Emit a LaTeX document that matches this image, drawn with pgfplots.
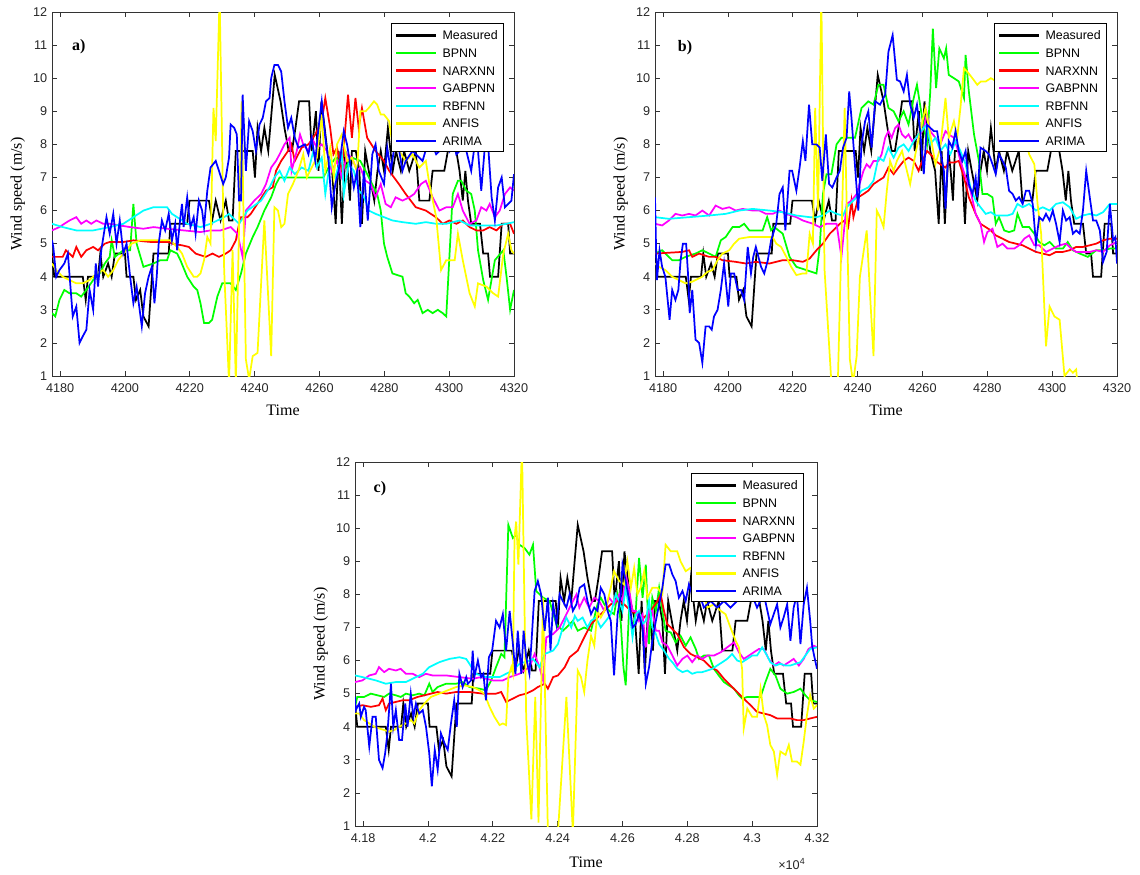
\documentclass[border=0pt]{standalone}
\usepackage{fontspec}
\setmainfont{Liberation Serif}
\setsansfont{Liberation Sans}
\usepackage{pgfplots}
\usepackage{pgfplotstable}
\pgfplotsset{compat=1.18}

\definecolor{matBlack}{RGB}{0,0,0}
\definecolor{matGreen}{RGB}{0,255,0}
\definecolor{matRed}{RGB}{255,0,0}
\definecolor{matMagenta}{RGB}{255,0,255}
\definecolor{matCyan}{RGB}{0,255,255}
\definecolor{matYellow}{RGB}{255,255,0}
\definecolor{matBlue}{RGB}{0,0,255}

% measured wind speed (same series in all three panels)
\pgfplotstableread[row sep=\\]{x y\\
4177.5 4.7\\ 4178.2 4.0\\ 4187.0 4.0\\ 4187.9 3.3\\ 4188.6 4.0\\ 4191.7 4.0\\ 4192.4 4.7\\ 4193.3 4.0\\ 4194.8 4.4\\ 4195.9 4.0\\
4196.9 4.7\\ 4200.0 4.7\\ 4200.5 4.0\\ 4202.6 4.0\\ 4203.4 3.3\\ 4204.7 3.6\\ 4205.7 2.8\\ 4207.3 2.5\\ 4208.8 4.7\\ 4213.5 4.7\\
4214.0 5.6\\ 4219.2 5.6\\ 4219.9 6.3\\ 4225.9 6.3\\ 4226.9 5.7\\ 4228.0 6.3\\ 4229.5 5.7\\ 4231.1 6.3\\ 4232.1 5.7\\ 4233.2 5.7\\
4234.2 7.8\\ 4239.4 7.8\\ 4240.1 7.0\\ 4240.9 8.5\\ 4242.0 7.8\\ 4243.0 8.5\\ 4244.2 7.8\\ 4246.2 10.1\\ 4248.0 9.3\\ 4249.2 8.5\\
4250.5 7.8\\ 4251.5 7.8\\ 4252.6 8.5\\ 4253.7 9.3\\ 4256.8 9.3\\ 4257.6 7.8\\ 4258.9 9.0\\ 4259.7 7.2\\ 4260.6 9.3\\ 4261.6 8.5\\
4262.4 7.8\\ 4263.9 7.2\\ 4265.0 5.6\\ 4265.9 7.8\\ 4266.9 5.6\\ 4268.0 7.8\\ 4268.7 7.2\\ 4269.4 6.3\\ 4270.0 7.8\\ 4271.2 7.8\\
4272.3 7.2\\ 4273.1 5.6\\ 4274.1 7.8\\ 4275.2 7.2\\ 4276.9 6.3\\ 4277.9 7.2\\ 4278.9 7.8\\ 4279.9 7.2\\ 4281.1 8.5\\ 4282.6 7.2\\
4283.6 7.8\\ 4285.1 7.2\\ 4286.1 7.8\\ 4287.7 7.2\\ 4289.7 7.8\\ 4290.8 6.3\\ 4293.9 6.3\\ 4294.9 7.2\\ 4298.5 7.2\\ 4299.6 7.8\\
4302.2 7.8\\ 4303.2 7.2\\ 4304.2 6.3\\ 4305.0 7.2\\ 4305.8 6.3\\ 4306.8 5.6\\ 4309.5 5.6\\ 4310.5 4.7\\ 4312.0 4.7\\ 4312.6 4.0\\
4315.1 4.0\\ 4316.2 5.6\\ 4318.2 5.6\\ 4318.8 4.7\\ 4320.0 4.7\\
}\measured

% ---------- panel a ----------
\pgfplotstableread[row sep=\\]{x y\\
4177.5 2.9\\ 4178.5 2.8\\ 4179.8 3.3\\ 4181.3 3.6\\ 4182.9 3.5\\ 4185.0 3.5\\ 4186.5 3.4\\ 4188.1 3.6\\ 4190.2 3.9\\ 4192.2 4.1\\
4193.8 4.4\\ 4195.3 4.6\\ 4195.9 5.1\\ 4196.9 4.6\\ 4199.5 4.8\\ 4201.6 4.8\\ 4202.6 6.2\\ 4203.6 5.0\\ 4205.7 4.3\\ 4208.8 4.4\\
4210.9 4.5\\ 4213.0 4.5\\ 4214.0 4.8\\ 4216.1 4.7\\ 4217.1 4.5\\ 4219.2 4.0\\ 4221.2 3.7\\ 4222.3 3.6\\ 4223.3 3.2\\ 4224.4 2.6\\
4225.9 2.6\\ 4226.9 2.7\\ 4228.5 3.4\\ 4230.0 3.8\\ 4232.6 3.8\\ 4234.2 3.6\\ 4235.8 4.1\\ 4237.3 4.7\\ 4239.4 5.2\\ 4240.9 5.5\\
4243.0 6.0\\ 4245.1 6.4\\ 4246.6 6.8\\ 4247.7 7.0\\ 4251.3 7.0\\ 4261.2 7.0\\ 4262.8 7.3\\ 4265.0 7.6\\ 4268.0 7.3\\ 4270.0 7.6\\
4272.6 7.5\\ 4274.2 7.2\\ 4277.8 6.5\\ 4278.9 6.0\\ 4279.9 5.0\\ 4280.9 4.6\\ 4282.5 4.1\\ 4285.6 4.0\\ 4286.6 3.5\\ 4287.7 3.4\\
4289.2 3.2\\ 4290.3 3.3\\ 4291.8 2.9\\ 4293.4 3.0\\ 4294.9 2.9\\ 4296.5 3.0\\ 4298.0 2.9\\ 4299.1 2.8\\ 4301.1 6.5\\ 4302.7 6.9\\
4303.7 6.9\\ 4305.3 6.6\\ 4306.8 6.5\\ 4307.9 6.0\\ 4308.9 4.8\\ 4310.5 3.9\\ 4312.0 3.3\\ 4314.1 4.5\\ 4316.7 4.8\\ 4317.7 4.0\\
4318.8 3.0\\ 4320.0 3.6\\
}\taG
\pgfplotstableread[row sep=\\]{x y\\
4177.5 4.6\\ 4180.8 4.6\\ 4181.8 4.8\\ 4183.9 4.6\\ 4185.0 4.9\\ 4186.5 4.6\\ 4188.1 4.8\\ 4190.2 4.9\\ 4191.7 4.8\\ 4193.8 5.0\\
4195.3 5.05\\ 4199.5 5.05\\ 4202.6 5.1\\ 4208.0 5.05\\ 4213.5 5.05\\ 4214.5 5.0\\ 4217.6 4.95\\ 4219.7 4.9\\ 4221.8 4.7\\ 4224.9 4.6\\
4227.0 4.7\\ 4229.0 4.6\\ 4231.1 4.7\\ 4232.6 4.8\\ 4234.2 5.1\\ 4235.2 5.6\\ 4235.8 5.8\\ 4237.8 5.8\\ 4238.8 5.9\\ 4241.5 6.3\\
4243.5 6.6\\ 4245.6 6.7\\ 4246.6 7.2\\ 4248.2 7.5\\ 4250.3 7.8\\ 4251.3 8.0\\ 4252.4 7.5\\ 4254.5 7.9\\ 4256.6 8.0\\ 4258.7 8.3\\
4260.7 8.7\\ 4261.8 9.4\\ 4263.3 8.5\\ 4264.3 7.7\\ 4265.4 7.9\\ 4266.9 7.2\\ 4268.8 9.5\\ 4270.0 8.2\\ 4271.1 9.4\\ 4272.1 8.5\\
4273.1 9.1\\ 4274.7 8.2\\ 4277.3 7.8\\ 4279.9 7.5\\ 4281.5 7.2\\ 4284.5 6.8\\ 4286.6 6.5\\ 4289.7 6.1\\ 4292.8 6.0\\ 4295.9 5.8\\
4298.0 5.6\\ 4300.1 5.7\\ 4302.2 5.6\\ 4304.2 5.7\\ 4306.3 5.5\\ 4308.4 5.4\\ 4310.5 5.4\\ 4312.5 5.5\\ 4314.6 5.4\\ 4316.7 5.6\\
4318.8 5.6\\ 4320.0 5.3\\
}\taR
\pgfplotstableread[row sep=\\]{x y\\
4177.5 5.4\\ 4179.8 5.5\\ 4181.3 5.6\\ 4182.9 5.7\\ 4185.0 5.8\\ 4186.5 5.6\\ 4188.1 5.7\\ 4189.6 5.6\\ 4191.2 5.7\\ 4193.3 5.6\\
4195.3 5.6\\ 4198.4 5.55\\ 4201.6 5.5\\ 4205.7 5.45\\ 4208.8 5.5\\ 4213.0 5.45\\ 4218.1 5.4\\ 4223.3 5.35\\ 4226.4 5.4\\ 4229.5 5.4\\
4232.6 5.5\\ 4234.7 5.3\\ 4236.3 4.6\\ 4237.3 6.0\\ 4239.9 6.3\\ 4242.0 6.5\\ 4243.5 6.8\\ 4245.1 7.3\\ 4246.6 7.5\\ 4247.7 7.7\\
4249.2 8.0\\ 4250.8 8.2\\ 4251.4 7.2\\ 4253.0 7.8\\ 4254.0 8.3\\ 4255.0 8.0\\ 4256.6 7.8\\ 4257.6 8.2\\ 4259.2 7.9\\ 4260.7 8.0\\
4262.3 7.8\\ 4263.8 7.2\\ 4265.4 7.5\\ 4266.9 7.0\\ 4268.5 7.7\\ 4270.0 7.6\\ 4271.6 7.2\\ 4272.6 7.3\\ 4274.2 6.9\\ 4275.8 6.8\\
4277.3 6.4\\ 4278.9 6.8\\ 4280.4 6.2\\ 4282.0 6.1\\ 4283.5 6.4\\ 4285.6 6.3\\ 4287.7 6.4\\ 4289.2 6.5\\ 4291.3 6.8\\ 4292.8 6.9\\
4294.9 6.4\\ 4297.0 6.0\\ 4299.1 6.1\\ 4301.1 6.1\\ 4302.7 6.5\\ 4304.2 6.0\\ 4306.3 5.6\\ 4308.4 5.7\\ 4309.9 6.1\\ 4311.5 6.0\\
4312.5 6.2\\ 4314.1 5.8\\ 4315.6 6.0\\ 4317.2 6.5\\ 4318.8 6.7\\ 4320.0 6.6\\
}\taP
\pgfplotstableread[row sep=\\]{x y\\
4177.5 5.6\\ 4180.8 5.5\\ 4185.0 5.4\\ 4190.2 5.4\\ 4195.3 5.5\\ 4199.5 5.6\\ 4202.6 5.8\\ 4205.7 6.0\\ 4208.8 6.1\\ 4213.0 6.1\\
4214.5 5.9\\ 4216.1 5.8\\ 4219.2 5.6\\ 4223.3 5.5\\ 4226.4 5.6\\ 4230.6 5.8\\ 4232.1 5.9\\ 4235.2 5.6\\ 4237.8 6.0\\ 4242.0 6.3\\
4244.6 6.7\\ 4246.1 7.0\\ 4247.7 7.2\\ 4249.2 6.9\\ 4250.8 7.3\\ 4252.4 7.1\\ 4254.5 7.3\\ 4256.6 7.2\\ 4258.1 7.8\\ 4259.2 7.3\\
4260.7 7.6\\ 4261.8 6.5\\ 4263.3 7.5\\ 4264.9 7.0\\ 4266.9 7.7\\ 4267.5 6.5\\ 4269.0 7.4\\ 4270.6 7.2\\ 4272.1 6.6\\ 4273.2 6.5\\
4274.2 6.3\\ 4275.2 6.0\\ 4277.3 5.9\\ 4279.9 5.8\\ 4282.5 5.7\\ 4285.6 5.65\\ 4289.7 5.6\\ 4292.8 5.65\\ 4296.0 5.6\\ 4299.1 5.6\\
4303.2 5.7\\ 4306.3 5.55\\ 4310.5 5.55\\ 4314.6 5.55\\ 4317.7 5.6\\ 4320.0 5.65\\
}\taC
\pgfplotstableread[row sep=\\]{x y\\
4177.5 4.4\\ 4178.8 4.2\\ 4180.8 4.0\\ 4182.9 3.9\\ 4185.0 3.8\\ 4187.0 3.8\\ 4189.1 3.9\\ 4191.2 4.1\\ 4193.3 4.2\\ 4194.8 4.0\\
4196.4 4.2\\ 4197.9 4.5\\ 4199.5 4.7\\ 4202.1 5.0\\ 4204.7 5.1\\ 4207.8 5.1\\ 4210.9 5.1\\ 4214.0 5.1\\ 4216.1 4.9\\ 4217.6 4.7\\
4219.2 4.3\\ 4221.2 4.0\\ 4222.3 4.0\\ 4223.3 4.1\\ 4224.4 4.5\\ 4225.4 5.2\\ 4226.4 5.0\\ 4227.3 9.1\\ 4228.0 8.1\\ 4229.2 12.5\\
4230.6 4.2\\ 4232.1 0.8\\ 4233.2 4.8\\ 4234.2 0.8\\ 4236.0 9.3\\ 4237.3 1.5\\ 4238.3 0.9\\ 4239.4 1.6\\ 4240.9 1.7\\ 4243.0 5.7\\
4245.1 1.6\\ 4246.1 6.1\\ 4247.2 6.0\\ 4248.2 5.5\\ 4249.2 5.6\\ 4250.3 6.5\\ 4251.8 6.8\\ 4253.5 7.2\\ 4255.0 7.7\\ 4256.1 7.0\\
4257.6 7.3\\ 4259.2 7.6\\ 4260.7 8.9\\ 4261.8 7.2\\ 4263.3 7.9\\ 4264.4 7.0\\ 4265.4 8.0\\ 4266.9 8.3\\ 4268.5 7.5\\ 4270.0 7.6\\
4271.6 7.2\\ 4272.6 9.0\\ 4274.2 9.0\\ 4275.2 9.1\\ 4276.8 9.3\\ 4277.8 9.2\\ 4278.9 8.9\\ 4279.9 8.9\\ 4281.5 8.7\\ 4282.5 8.0\\
4284.6 7.8\\ 4286.6 7.5\\ 4288.7 7.7\\ 4290.8 7.3\\ 4292.8 7.5\\ 4293.9 6.8\\ 4296.0 5.8\\ 4297.5 4.2\\ 4299.1 4.5\\ 4301.7 4.5\\
4302.7 5.3\\ 4304.2 4.5\\ 4306.3 3.5\\ 4307.9 3.1\\ 4308.9 3.8\\ 4311.5 3.7\\ 4313.6 3.5\\ 4315.1 3.4\\ 4316.7 4.7\\ 4318.2 5.3\\
4319.2 4.8\\ 4320.0 4.7\\
}\taY
\pgfplotstableread[row sep=\\]{x y\\
4177.5 5.1\\ 4177.9 4.9\\ 4178.8 4.0\\ 4179.8 4.2\\ 4181.3 4.4\\ 4182.4 4.7\\ 4183.9 2.8\\ 4185.0 3.1\\ 4186.0 2.0\\ 4187.0 2.2\\
4188.1 2.4\\ 4189.1 3.6\\ 4190.2 3.0\\ 4191.0 4.4\\ 4191.7 3.7\\ 4192.7 4.8\\ 4194.3 5.8\\ 4195.3 5.3\\ 4196.4 5.9\\ 4197.4 5.0\\
4198.4 5.7\\ 4199.5 4.7\\ 4200.5 5.0\\ 4201.6 4.0\\ 4202.6 3.2\\ 4203.6 3.7\\ 4205.2 2.5\\ 4206.2 3.5\\ 4207.3 4.0\\ 4208.3 4.3\\
4209.1 3.2\\ 4209.8 4.0\\ 4210.4 5.0\\ 4211.4 5.7\\ 4212.4 5.4\\ 4213.5 5.9\\ 4214.5 5.1\\ 4215.5 5.6\\ 4216.1 4.8\\ 4217.1 5.8\\
4217.6 6.2\\ 4218.1 5.5\\ 4219.2 6.4\\ 4220.2 5.5\\ 4221.2 5.8\\ 4221.8 5.3\\ 4222.8 6.3\\ 4223.8 6.0\\ 4224.4 5.5\\ 4225.4 6.6\\
4226.4 7.3\\ 4228.0 7.5\\ 4229.0 7.2\\ 4230.3 6.8\\ 4231.1 7.0\\ 4232.1 7.6\\ 4232.6 8.6\\ 4233.7 8.5\\ 4234.5 8.3\\ 4235.2 6.3\\
4235.8 6.3\\ 4236.3 9.5\\ 4237.3 7.2\\ 4238.3 8.7\\ 4239.4 8.4\\ 4240.4 7.8\\ 4241.5 8.6\\ 4242.5 8.8\\ 4243.5 9.3\\ 4244.6 9.4\\
4245.1 10.0\\ 4246.1 10.4\\ 4247.2 10.4\\ 4248.2 10.2\\ 4249.2 9.3\\ 4250.3 8.5\\ 4251.3 8.8\\ 4252.4 8.2\\ 4253.5 7.9\\ 4255.5 8.0\\
4256.6 7.7\\ 4257.6 8.2\\ 4258.7 7.5\\ 4259.7 8.5\\ 4260.7 9.3\\ 4261.8 8.2\\ 4262.8 7.5\\ 4263.8 6.1\\ 4264.9 6.8\\ 4265.9 7.2\\
4267.5 8.4\\ 4268.5 8.0\\ 4269.5 7.4\\ 4270.6 6.7\\ 4271.6 7.2\\ 4272.6 5.5\\ 4273.7 7.2\\ 4274.9 5.7\\ 4276.3 7.7\\ 4277.3 8.0\\
4278.3 7.2\\ 4279.9 6.8\\ 4280.9 7.9\\ 4282.0 7.2\\ 4283.5 8.2\\ 4284.6 7.8\\ 4285.6 7.2\\ 4286.6 7.5\\ 4288.7 7.8\\ 4291.8 7.5\\
4293.9 8.2\\ 4296.0 7.7\\ 4299.1 8.0\\ 4300.1 7.8\\ 4301.1 8.2\\ 4302.2 7.7\\ 4303.2 7.8\\ 4304.2 8.0\\ 4305.3 7.8\\ 4306.8 7.2\\
4307.9 8.0\\ 4308.9 7.8\\ 4309.9 6.6\\ 4310.9 7.8\\ 4312.0 8.0\\ 4313.1 6.4\\ 4314.1 5.7\\ 4315.1 6.7\\ 4316.2 7.0\\ 4317.2 6.1\\
4318.2 6.2\\ 4319.2 6.3\\ 4320.0 7.1\\
}\taB

% ---------- panel b ----------
\pgfplotstableread[row sep=\\]{x y\\
4177.5 4.7\\ 4179.7 4.8\\ 4182.8 4.5\\ 4184.9 4.5\\ 4186.9 4.6\\ 4190.0 4.7\\ 4192.1 4.8\\ 4194.2 4.7\\ 4196.2 4.6\\ 4197.8 5.1\\
4199.3 5.2\\ 4201.4 5.5\\ 4203.5 5.5\\ 4205.0 5.6\\ 4206.6 5.4\\ 4210.7 5.4\\ 4212.1 5.8\\ 4213.3 5.4\\ 4214.3 5.5\\ 4216.9 5.3\\
4219.0 4.6\\ 4221.1 4.3\\ 4224.2 4.2\\ 4227.3 4.1\\ 4228.3 4.9\\ 4229.3 6.5\\ 4230.4 7.1\\ 4231.9 7.1\\ 4233.5 8.0\\ 4235.0 8.2\\
4237.1 8.2\\ 4239.2 8.2\\ 4241.2 9.1\\ 4243.3 9.3\\ 4244.9 9.2\\ 4246.4 9.8\\ 4248.0 9.8\\ 4249.5 9.1\\ 4251.1 9.0\\ 4252.6 8.7\\
4254.2 9.0\\ 4255.7 8.6\\ 4257.3 9.4\\ 4258.3 9.8\\ 4259.9 8.8\\ 4261.4 8.0\\ 4262.4 9.6\\ 4263.2 11.5\\ 4264.2 9.7\\ 4265.2 10.9\\
4266.6 10.6\\ 4267.3 10.9\\ 4268.1 10.1\\ 4269.7 10.0\\ 4271.2 9.9\\ 4272.8 9.4\\ 4273.3 10.7\\ 4274.3 9.6\\ 4275.9 8.3\\ 4277.4 7.5\\
4278.5 6.5\\ 4280.0 6.5\\ 4281.6 6.4\\ 4282.6 5.6\\ 4283.6 5.8\\ 4285.2 5.4\\ 4286.7 5.35\\ 4288.3 5.4\\ 4289.3 5.9\\ 4290.9 5.5\\
4292.9 5.5\\ 4294.5 5.3\\ 4296.0 5.05\\ 4297.6 4.95\\ 4299.2 5.05\\ 4301.2 4.85\\ 4303.3 4.85\\ 4304.8 5.05\\ 4306.4 4.8\\ 4308.5 4.7\\
4311.0 4.6\\ 4313.6 4.8\\ 4315.7 4.8\\ 4317.8 4.85\\ 4320.0 4.85\\
}\tbG
\pgfplotstableread[row sep=\\]{x y\\
4177.5 4.7\\ 4185.9 4.75\\ 4188.0 4.8\\ 4189.0 4.6\\ 4191.1 4.7\\ 4194.2 4.6\\ 4196.2 4.6\\ 4198.3 4.5\\ 4202.4 4.45\\ 4205.5 4.4\\
4208.6 4.45\\ 4212.8 4.4\\ 4216.9 4.5\\ 4220.0 4.5\\ 4223.1 4.45\\ 4225.2 4.55\\ 4227.3 4.8\\ 4229.3 5.0\\ 4231.4 5.3\\ 4233.5 5.5\\
4234.5 5.6\\ 4236.0 5.7\\ 4237.1 5.5\\ 4238.1 6.3\\ 4238.7 5.8\\ 4240.2 6.4\\ 4241.8 6.5\\ 4243.3 6.6\\ 4244.9 6.8\\ 4246.4 6.9\\
4248.0 7.0\\ 4249.5 7.3\\ 4251.1 7.1\\ 4252.6 7.3\\ 4254.2 7.5\\ 4255.7 7.6\\ 4257.3 7.5\\ 4258.8 7.2\\ 4259.9 7.5\\ 4261.4 7.8\\
4263.0 7.65\\ 4264.0 7.5\\ 4265.5 7.4\\ 4267.1 7.3\\ 4268.1 7.45\\ 4269.7 7.45\\ 4271.2 7.5\\ 4272.8 7.0\\ 4274.3 6.4\\ 4276.4 5.9\\
4277.9 5.6\\ 4279.5 5.5\\ 4281.1 5.4\\ 4282.6 5.25\\ 4284.7 5.15\\ 4286.7 5.05\\ 4288.8 5.0\\ 4290.9 4.95\\ 4292.9 4.85\\ 4295.0 4.75\\
4297.1 4.7\\ 4299.2 4.65\\ 4301.2 4.75\\ 4303.3 4.75\\ 4305.4 4.8\\ 4307.4 4.9\\ 4309.5 4.9\\ 4311.6 4.95\\ 4313.6 5.0\\ 4315.7 5.1\\
4317.8 5.15\\ 4320.0 5.15\\
}\tbR
\pgfplotstableread[row sep=\\]{x y\\
4177.5 5.6\\ 4179.7 5.55\\ 4181.8 5.7\\ 4183.8 5.9\\ 4185.9 5.85\\ 4188.0 5.9\\ 4190.0 5.85\\ 4192.1 6.0\\ 4194.2 5.85\\ 4196.2 6.15\\
4198.3 6.05\\ 4200.4 6.1\\ 4202.4 6.0\\ 4204.5 6.05\\ 4207.6 6.0\\ 4209.7 6.0\\ 4211.7 5.9\\ 4213.8 5.9\\ 4215.9 6.0\\ 4217.9 5.9\\
4221.1 5.8\\ 4223.1 5.7\\ 4226.2 5.6\\ 4228.3 5.5\\ 4230.4 5.6\\ 4233.5 5.6\\ 4235.0 4.6\\ 4236.6 6.2\\ 4238.1 6.3\\ 4239.7 6.5\\
4241.8 7.2\\ 4242.8 7.4\\ 4243.8 7.3\\ 4244.9 7.5\\ 4246.4 7.5\\ 4247.4 7.7\\ 4248.5 8.2\\ 4249.5 8.4\\ 4250.5 8.2\\ 4251.6 8.5\\
4252.6 8.6\\ 4253.7 8.3\\ 4254.7 8.2\\ 4255.7 8.3\\ 4256.8 8.1\\ 4258.3 8.2\\ 4259.3 8.3\\ 4260.4 8.5\\ 4261.4 8.9\\ 4262.4 8.4\\
4264.0 8.2\\ 4265.5 8.0\\ 4267.1 8.4\\ 4268.1 8.3\\ 4269.7 8.2\\ 4270.7 7.9\\ 4271.7 7.5\\ 4273.3 7.0\\ 4274.8 6.6\\ 4276.4 5.9\\
4277.9 5.6\\ 4279.0 5.05\\ 4280.0 5.35\\ 4281.6 5.45\\ 4283.1 4.9\\ 4284.7 5.0\\ 4286.2 4.85\\ 4288.3 4.85\\ 4289.8 4.95\\ 4291.4 5.15\\
4292.9 5.25\\ 4294.5 4.95\\ 4296.0 4.95\\ 4298.1 4.75\\ 4300.2 4.85\\ 4302.3 4.95\\ 4304.3 5.0\\ 4305.9 4.85\\ 4307.4 4.75\\ 4311.6 4.75\\
4313.6 4.8\\ 4315.7 4.75\\ 4317.8 4.95\\ 4320.0 5.05\\
}\tbP
\pgfplotstableread[row sep=\\]{x y\\
4177.5 5.8\\ 4181.8 5.75\\ 4188.0 5.8\\ 4194.2 5.85\\ 4199.3 5.9\\ 4203.5 6.0\\ 4207.6 6.05\\ 4212.8 6.0\\ 4216.9 5.95\\ 4221.1 5.85\\
4225.2 5.8\\ 4227.3 5.8\\ 4229.3 5.85\\ 4231.4 6.0\\ 4233.5 5.9\\ 4235.5 5.85\\ 4236.6 6.1\\ 4238.1 6.25\\ 4239.7 6.4\\ 4241.2 6.6\\
4243.3 6.7\\ 4244.9 6.9\\ 4246.4 7.6\\ 4248.0 7.5\\ 4249.5 7.9\\ 4251.1 7.6\\ 4252.6 7.9\\ 4254.2 8.0\\ 4255.7 7.8\\ 4257.3 8.1\\
4258.8 8.3\\ 4260.4 8.5\\ 4261.4 8.6\\ 4262.4 8.0\\ 4264.0 8.2\\ 4265.5 7.8\\ 4267.1 8.0\\ 4268.6 7.7\\ 4270.2 8.1\\ 4271.7 7.8\\
4273.3 7.4\\ 4274.8 6.7\\ 4276.4 6.3\\ 4277.9 6.1\\ 4279.5 5.9\\ 4281.1 5.95\\ 4282.6 5.85\\ 4284.7 5.85\\ 4286.2 5.85\\ 4287.8 5.9\\
4289.3 6.2\\ 4290.9 6.1\\ 4292.9 6.2\\ 4295.0 6.0\\ 4297.1 6.1\\ 4299.2 6.0\\ 4301.2 6.2\\ 4303.3 6.25\\ 4305.4 6.1\\ 4307.4 5.75\\
4309.5 5.85\\ 4311.6 5.9\\ 4313.6 5.85\\ 4315.7 5.95\\ 4317.8 6.2\\ 4320.0 6.2\\
}\tbC
\pgfplotstableread[row sep=\\]{x y\\
4177.5 4.4\\ 4178.7 4.3\\ 4180.7 4.2\\ 4182.8 4.0\\ 4184.9 3.9\\ 4186.9 3.8\\ 4189.0 3.85\\ 4190.0 3.9\\ 4192.1 4.0\\ 4193.7 4.15\\
4195.2 4.2\\ 4196.8 4.5\\ 4198.3 4.7\\ 4200.4 4.8\\ 4201.9 5.0\\ 4203.5 5.15\\ 4206.6 5.2\\ 4210.7 5.2\\ 4213.8 5.2\\ 4214.9 5.0\\
4216.4 4.9\\ 4218.0 4.6\\ 4219.5 4.3\\ 4221.1 4.05\\ 4223.1 4.1\\ 4224.2 4.1\\ 4225.2 5.3\\ 4226.2 5.0\\ 4226.9 9.1\\ 4227.8 6.0\\
4228.8 12.5\\ 4229.8 4.2\\ 4231.9 0.8\\ 4233.9 0.8\\ 4236.0 9.1\\ 4237.6 1.5\\ 4238.6 0.8\\ 4239.7 1.6\\ 4240.7 4.0\\ 4242.8 5.4\\
4243.8 3.5\\ 4244.9 1.6\\ 4245.9 6.0\\ 4246.9 5.8\\ 4248.0 5.5\\ 4249.0 6.6\\ 4250.0 7.5\\ 4251.1 7.2\\ 4252.1 7.5\\ 4253.7 7.8\\
4255.2 7.2\\ 4256.2 6.8\\ 4257.8 7.7\\ 4259.3 8.4\\ 4260.9 9.1\\ 4262.4 8.3\\ 4264.0 7.4\\ 4265.5 7.9\\ 4267.1 9.4\\ 4268.1 8.2\\
4269.7 8.7\\ 4270.7 8.2\\ 4271.7 9.1\\ 4272.8 10.3\\ 4273.8 10.2\\ 4275.4 10.0\\ 4276.9 9.8\\ 4278.0 9.9\\ 4279.5 9.9\\ 4281.1 10.0\\
4284.7 9.8\\ 4288.8 9.4\\ 4292.9 7.7\\ 4294.5 7.4\\ 4295.5 6.2\\ 4296.6 5.3\\ 4298.1 1.9\\ 4299.2 3.1\\ 4300.7 2.8\\ 4302.3 2.7\\
4303.8 1.0\\ 4305.4 1.2\\ 4306.4 1.1\\ 4307.4 1.2\\ 4308.0 0.5\\
}\tbY
\pgfplotstableread[row sep=\\]{x y\\
4177.5 6.4\\ 4177.8 5.0\\ 4178.1 3.9\\ 4178.9 4.8\\ 4179.7 4.3\\ 4180.7 4.0\\ 4182.0 2.7\\ 4182.8 3.6\\ 4183.8 3.3\\ 4184.7 3.6\\
4185.4 4.5\\ 4186.1 5.0\\ 4187.1 5.0\\ 4187.8 3.9\\ 4188.2 2.9\\ 4189.0 3.6\\ 4190.0 2.1\\ 4191.1 2.0\\ 4192.1 1.4\\ 4193.1 2.5\\
4194.2 2.5\\ 4195.0 2.4\\ 4195.7 2.8\\ 4196.8 3.0\\ 4197.8 3.6\\ 4198.8 4.4\\ 4200.1 3.1\\ 4200.9 4.1\\ 4201.9 4.1\\ 4203.0 3.6\\
4204.0 3.6\\ 4205.0 3.3\\ 4206.1 4.9\\ 4207.1 4.1\\ 4207.8 4.6\\ 4208.6 4.9\\ 4210.2 4.3\\ 4211.2 4.1\\ 4212.3 4.5\\ 4213.3 5.1\\
4214.9 5.6\\ 4215.9 6.5\\ 4216.9 6.7\\ 4217.7 5.4\\ 4219.0 7.2\\ 4219.8 7.2\\ 4221.1 6.6\\ 4222.1 7.3\\ 4223.1 8.1\\ 4223.9 7.5\\
4225.0 9.2\\ 4226.0 8.0\\ 4227.3 8.0\\ 4228.3 7.9\\ 4229.1 6.9\\ 4230.2 8.3\\ 4231.2 6.8\\ 4232.2 6.7\\ 4233.5 7.0\\ 4234.5 7.2\\
4235.5 7.9\\ 4236.6 8.2\\ 4237.4 9.6\\ 4238.1 8.8\\ 4240.2 6.0\\ 4241.2 8.0\\ 4242.3 8.7\\ 4243.3 9.0\\ 4244.3 7.9\\ 4245.4 9.3\\
4246.9 9.2\\ 4248.5 9.5\\ 4249.5 10.8\\ 4250.8 11.3\\ 4252.1 9.95\\ 4253.1 9.9\\ 4254.2 9.6\\ 4255.2 10.1\\ 4256.2 9.2\\ 4257.3 8.8\\
4258.3 9.2\\ 4259.3 8.4\\ 4260.4 7.1\\ 4261.4 8.6\\ 4262.4 8.5\\ 4263.5 8.4\\ 4264.5 8.4\\ 4265.5 7.8\\ 4266.6 7.2\\ 4267.1 6.05\\
4268.1 8.1\\ 4269.2 7.9\\ 4270.2 8.4\\ 4271.2 7.8\\ 4272.3 7.5\\ 4273.3 7.8\\ 4274.3 6.8\\ 4275.4 6.5\\ 4276.4 7.0\\ 4276.9 6.4\\
4277.9 7.9\\ 4279.5 7.8\\ 4280.5 7.7\\ 4281.6 7.4\\ 4282.6 7.1\\ 4283.6 7.7\\ 4284.7 7.5\\ 4285.7 7.3\\ 4286.7 6.6\\ 4287.8 6.5\\
4288.8 6.3\\ 4289.8 6.4\\ 4290.9 6.2\\ 4291.9 6.6\\ 4292.9 6.6\\ 4294.0 6.2\\ 4295.0 5.0\\ 4296.0 5.8\\ 4297.1 5.7\\ 4298.1 5.9\\
4299.2 5.7\\ 4300.2 6.0\\ 4301.2 5.6\\ 4302.3 5.05\\ 4303.3 6.0\\ 4304.3 5.7\\ 4305.4 5.8\\ 4306.4 5.3\\ 4307.4 5.4\\ 4308.5 5.3\\
4309.5 6.0\\ 4310.5 7.2\\ 4311.6 6.4\\ 4312.6 5.7\\ 4313.6 5.7\\ 4314.7 5.4\\ 4315.7 4.45\\ 4316.8 4.75\\ 4317.8 6.2\\ 4318.8 5.1\\
4319.5 5.2\\ 4320.0 4.4\\
}\tbB

% ---------- panel c ----------
\pgfplotstableread[row sep=\\]{x y\\
4177.5 4.6\\ 4178.2 4.9\\ 4180.3 4.9\\ 4182.4 5.0\\ 4184.4 4.95\\ 4186.5 4.9\\ 4188.0 5.0\\ 4190.1 4.95\\ 4191.6 4.9\\ 4193.2 5.0\\
4195.3 4.95\\ 4197.3 5.0\\ 4198.9 4.95\\ 4200.4 5.3\\ 4201.4 5.05\\ 4203.0 5.2\\ 4205.6 5.3\\ 4208.7 5.3\\ 4210.7 5.35\\ 4212.8 5.2\\
4215.9 5.15\\ 4217.9 5.1\\ 4219.5 5.4\\ 4221.0 5.8\\ 4222.6 6.2\\ 4223.6 6.1\\ 4224.8 10.1\\ 4226.2 9.7\\ 4227.2 9.8\\ 4228.2 9.5\\
4229.8 9.4\\ 4231.3 9.2\\ 4232.4 9.5\\ 4233.4 8.1\\ 4235.5 7.9\\ 4237.5 7.8\\ 4239.6 7.1\\ 4241.6 6.9\\ 4242.7 7.0\\ 4244.7 7.2\\
4246.2 6.9\\ 4248.2 7.0\\ 4250.3 6.9\\ 4252.3 7.7\\ 4253.3 7.9\\ 4254.4 7.7\\ 4255.9 7.5\\ 4257.4 7.4\\ 4258.5 8.0\\ 4259.5 7.1\\
4260.3 5.8\\ 4261.0 5.25\\ 4262.1 7.7\\ 4263.1 6.9\\ 4264.1 7.5\\ 4265.1 9.1\\ 4266.2 7.9\\ 4267.2 8.9\\ 4268.2 6.5\\ 4269.2 7.9\\
4270.3 7.5\\ 4271.3 8.2\\ 4272.3 7.5\\ 4273.3 6.9\\ 4274.9 6.85\\ 4276.4 6.55\\ 4277.9 6.75\\ 4279.5 6.45\\ 4281.0 6.7\\ 4282.6 6.35\\
4283.6 6.05\\ 4285.1 6.15\\ 4286.7 6.15\\ 4288.2 5.75\\ 4289.7 5.55\\ 4291.3 5.35\\ 4292.8 5.25\\ 4294.4 5.15\\ 4295.9 4.95\\ 4296.9 4.85\\
4298.5 4.9\\ 4300.5 4.9\\ 4302.6 4.9\\ 4304.1 5.35\\ 4305.6 5.75\\ 4307.2 5.55\\ 4308.7 5.15\\ 4310.8 5.0\\ 4312.8 5.05\\ 4314.9 5.15\\
4316.4 4.95\\ 4317.9 4.8\\ 4320.0 4.75\\
}\tcG
\pgfplotstableread[row sep=\\]{x y\\
4177.5 4.6\\ 4179.8 4.65\\ 4182.4 4.6\\ 4184.9 4.65\\ 4186.0 4.85\\ 4187.0 4.5\\ 4188.0 4.7\\ 4190.1 4.75\\ 4192.2 4.8\\ 4194.2 4.8\\
4196.8 4.9\\ 4198.9 4.95\\ 4200.9 5.0\\ 4203.0 5.05\\ 4205.6 5.0\\ 4208.7 5.05\\ 4212.8 5.05\\ 4216.9 5.0\\ 4221.0 5.0\\ 4222.6 5.05\\
4224.1 4.75\\ 4226.2 4.85\\ 4228.2 4.95\\ 4230.3 5.0\\ 4232.4 5.1\\ 4233.9 5.2\\ 4236.0 5.3\\ 4237.0 5.15\\ 4238.6 5.5\\ 4240.1 5.55\\
4242.2 5.8\\ 4243.7 6.1\\ 4246.2 6.3\\ 4248.2 6.7\\ 4250.3 7.1\\ 4252.3 7.3\\ 4254.4 7.5\\ 4256.4 7.7\\ 4258.5 7.8\\ 4260.5 7.7\\
4262.6 7.5\\ 4264.6 7.4\\ 4266.7 7.3\\ 4268.7 7.5\\ 4270.8 7.8\\ 4271.8 8.0\\ 4272.8 7.5\\ 4273.8 7.1\\ 4274.9 7.0\\ 4276.9 6.8\\
4279.0 6.4\\ 4281.0 6.2\\ 4283.1 6.1\\ 4285.1 6.0\\ 4287.2 5.8\\ 4289.2 5.7\\ 4291.3 5.45\\ 4293.3 5.25\\ 4295.4 5.05\\ 4297.4 4.85\\
4299.5 4.65\\ 4301.5 4.45\\ 4303.6 4.4\\ 4305.6 4.35\\ 4307.7 4.25\\ 4309.7 4.25\\ 4311.8 4.25\\ 4313.8 4.2\\ 4315.9 4.2\\ 4317.9 4.25\\
4320.0 4.3\\
}\tcR
\pgfplotstableread[row sep=\\]{x y\\
4177.5 5.35\\ 4179.8 5.4\\ 4181.9 5.55\\ 4183.9 5.6\\ 4184.9 5.8\\ 4186.5 5.65\\ 4188.0 5.75\\ 4190.1 5.7\\ 4191.6 5.75\\ 4193.2 5.6\\
4195.3 5.6\\ 4197.3 5.5\\ 4199.4 5.6\\ 4201.4 5.55\\ 4205.6 5.55\\ 4209.7 5.5\\ 4213.8 5.45\\ 4216.4 5.5\\ 4217.9 5.45\\ 4220.0 5.4\\
4223.1 5.4\\ 4225.2 5.5\\ 4228.2 5.6\\ 4231.3 5.8\\ 4232.9 6.2\\ 4234.4 5.8\\ 4235.5 5.4\\ 4236.5 6.7\\ 4238.6 6.8\\ 4240.6 7.0\\
4242.2 7.3\\ 4243.7 7.6\\ 4245.8 8.0\\ 4246.7 7.6\\ 4248.2 7.9\\ 4249.7 7.6\\ 4251.3 7.9\\ 4252.8 7.8\\ 4254.4 7.5\\ 4255.9 7.9\\
4257.4 7.7\\ 4259.0 8.0\\ 4260.0 7.8\\ 4261.0 8.6\\ 4262.1 8.1\\ 4263.1 7.5\\ 4264.1 7.5\\ 4265.1 7.2\\ 4266.2 7.4\\ 4267.2 6.4\\
4268.2 7.5\\ 4269.2 7.5\\ 4270.3 6.9\\ 4271.3 6.9\\ 4272.3 6.55\\ 4273.8 6.45\\ 4275.4 6.15\\ 4276.9 5.85\\ 4278.5 6.05\\ 4280.0 6.15\\
4281.5 5.95\\ 4283.1 6.15\\ 4284.6 6.05\\ 4286.2 6.15\\ 4288.2 6.15\\ 4290.3 6.25\\ 4292.3 6.4\\ 4294.4 6.55\\ 4295.9 6.25\\ 4297.4 6.05\\
4299.0 6.15\\ 4300.5 6.25\\ 4302.1 6.35\\ 4303.6 6.35\\ 4305.1 6.05\\ 4306.7 5.85\\ 4308.2 5.95\\ 4309.7 5.85\\ 4311.3 5.95\\ 4312.8 6.05\\
4314.4 5.85\\ 4315.9 6.05\\ 4317.4 6.35\\ 4319.0 6.45\\ 4320.0 6.4\\
}\tcP
\pgfplotstableread[row sep=\\]{x y\\
4177.5 5.55\\ 4179.8 5.5\\ 4181.9 5.45\\ 4183.9 5.4\\ 4187.0 5.3\\ 4190.1 5.35\\ 4193.2 5.35\\ 4196.3 5.5\\ 4198.4 5.6\\ 4200.4 5.8\\
4203.5 5.95\\ 4206.6 6.05\\ 4209.7 6.1\\ 4211.8 6.05\\ 4212.8 5.9\\ 4214.8 5.6\\ 4217.9 5.5\\ 4222.1 5.5\\ 4224.1 5.6\\ 4226.2 5.7\\
4228.2 5.9\\ 4231.3 6.0\\ 4232.4 6.05\\ 4234.4 5.8\\ 4236.0 6.2\\ 4238.6 6.3\\ 4240.1 6.5\\ 4241.6 7.0\\ 4242.7 7.3\\ 4244.2 7.0\\
4245.3 7.35\\ 4246.2 7.2\\ 4247.7 7.3\\ 4249.2 7.0\\ 4250.3 7.2\\ 4251.8 7.3\\ 4253.3 7.0\\ 4254.9 7.2\\ 4256.4 7.4\\ 4257.9 8.0\\
4259.0 7.8\\ 4260.0 7.5\\ 4261.0 8.2\\ 4262.1 7.5\\ 4263.1 6.7\\ 4264.1 7.4\\ 4265.1 7.5\\ 4266.2 7.1\\ 4267.2 7.2\\ 4268.2 7.8\\
4269.2 7.0\\ 4270.3 6.8\\ 4271.3 6.5\\ 4272.8 6.3\\ 4274.4 6.05\\ 4275.4 5.95\\ 4276.9 5.75\\ 4278.5 5.65\\ 4280.0 5.7\\ 4281.5 5.6\\
4283.1 5.65\\ 4284.6 5.65\\ 4286.2 5.7\\ 4287.7 5.75\\ 4289.2 5.85\\ 4290.8 5.95\\ 4292.3 6.05\\ 4293.8 6.2\\ 4295.4 6.0\\ 4296.9 5.95\\
4298.5 6.05\\ 4300.0 6.15\\ 4301.5 6.15\\ 4303.1 6.4\\ 4304.6 6.15\\ 4305.6 5.95\\ 4307.2 5.85\\ 4308.7 5.9\\ 4310.3 5.85\\ 4311.8 5.85\\
4313.3 5.9\\ 4314.9 5.95\\ 4316.4 6.15\\ 4317.9 6.35\\ 4320.0 6.4\\
}\tcC
\pgfplotstableread[row sep=\\]{x y\\
4177.5 4.4\\ 4178.8 4.4\\ 4180.3 4.2\\ 4181.9 4.1\\ 4183.4 4.0\\ 4184.9 3.95\\ 4186.5 3.9\\ 4188.0 3.85\\ 4189.6 3.9\\ 4191.1 4.0\\
4193.2 4.1\\ 4194.7 4.2\\ 4195.8 4.1\\ 4197.3 4.5\\ 4198.9 4.7\\ 4200.9 4.9\\ 4203.5 5.0\\ 4206.1 5.1\\ 4208.7 5.2\\ 4211.2 5.25\\
4213.8 5.2\\ 4215.9 5.1\\ 4217.4 5.0\\ 4219.0 4.6\\ 4220.5 4.3\\ 4222.1 4.05\\ 4223.1 4.1\\ 4224.1 4.05\\ 4224.8 5.5\\ 4225.7 5.8\\
4226.2 5.6\\ 4226.7 9.7\\ 4227.2 10.2\\ 4227.9 8.9\\ 4229.0 12.5\\ 4230.3 4.3\\ 4231.9 1.2\\ 4233.1 4.9\\ 4234.1 1.1\\ 4235.5 7.9\\
4237.0 0.8\\ 4240.1 0.8\\ 4242.7 4.9\\ 4244.7 0.8\\ 4246.2 5.7\\ 4247.2 5.5\\ 4248.2 5.05\\ 4249.2 6.0\\ 4250.3 6.75\\ 4251.3 6.45\\
4252.3 7.5\\ 4253.3 7.3\\ 4254.4 7.5\\ 4255.4 7.8\\ 4256.4 8.2\\ 4257.4 8.7\\ 4259.0 8.4\\ 4260.5 8.3\\ 4261.5 9.0\\ 4262.6 8.2\\
4263.6 8.8\\ 4264.6 8.0\\ 4265.6 8.2\\ 4266.7 8.7\\ 4267.7 7.9\\ 4269.2 8.2\\ 4270.8 8.2\\ 4272.3 8.0\\ 4273.3 9.5\\ 4274.9 9.3\\
4276.9 9.3\\ 4277.9 9.0\\ 4279.5 8.7\\ 4281.0 8.8\\ 4283.1 8.4\\ 4284.6 8.2\\ 4286.2 7.6\\ 4288.2 7.7\\ 4290.3 7.5\\ 4291.8 7.4\\
4293.3 7.0\\ 4294.9 6.6\\ 4295.9 6.4\\ 4296.9 5.75\\ 4297.4 3.95\\ 4298.5 4.55\\ 4300.0 4.3\\ 4301.5 4.3\\ 4302.6 5.15\\ 4303.6 4.35\\
4304.6 4.05\\ 4305.6 3.45\\ 4306.7 3.25\\ 4307.7 2.55\\ 4308.7 3.25\\ 4310.3 3.15\\ 4311.3 3.45\\ 4312.3 2.95\\ 4313.8 2.95\\ 4314.9 2.85\\
4315.9 3.55\\ 4316.9 4.35\\ 4317.9 4.95\\ 4319.0 4.55\\ 4320.0 4.65\\
}\tcY
\pgfplotstableread[row sep=\\]{x y\\
4177.5 4.9\\ 4177.7 4.5\\ 4178.8 4.7\\ 4179.3 4.3\\ 4180.3 4.6\\ 4180.8 4.5\\ 4181.9 3.4\\ 4182.9 4.3\\ 4183.9 4.3\\ 4184.9 3.0\\
4186.0 2.75\\ 4186.8 3.2\\ 4187.5 3.8\\ 4188.6 5.3\\ 4189.3 4.0\\ 4190.1 4.5\\ 4191.1 3.6\\ 4192.0 3.6\\ 4193.0 4.7\\ 4193.7 4.0\\
4194.7 5.0\\ 4195.5 4.3\\ 4196.3 4.7\\ 4197.3 4.4\\ 4198.4 4.5\\ 4199.4 4.0\\ 4200.4 3.2\\ 4201.2 2.2\\ 4202.1 3.3\\ 4203.0 2.7\\
4204.0 3.8\\ 4205.1 3.5\\ 4206.1 3.3\\ 4207.1 4.1\\ 4208.1 4.8\\ 4208.9 4.0\\ 4209.7 5.6\\ 4210.7 5.2\\ 4211.8 5.5\\ 4212.3 5.3\\
4213.3 5.4\\ 4213.8 6.3\\ 4214.3 5.5\\ 4215.4 6.0\\ 4216.4 5.5\\ 4217.1 5.6\\ 4217.9 4.8\\ 4218.8 6.1\\ 4219.8 6.3\\ 4221.0 7.2\\
4222.1 7.0\\ 4223.1 7.4\\ 4224.1 6.3\\ 4225.2 7.5\\ 4226.2 6.5\\ 4227.0 5.6\\ 4227.7 6.9\\ 4228.8 5.6\\ 4229.5 6.9\\ 4230.3 6.1\\
4231.3 5.6\\ 4231.9 6.5\\ 4232.9 8.1\\ 4233.9 8.4\\ 4234.9 8.0\\ 4236.0 6.9\\ 4237.0 7.9\\ 4237.8 6.3\\ 4238.6 7.7\\ 4239.6 7.1\\
4240.6 8.0\\ 4241.6 7.8\\ 4242.7 7.6\\ 4243.7 8.0\\ 4244.7 7.5\\ 4245.8 7.7\\ 4246.8 8.2\\ 4248.2 8.3\\ 4249.2 7.8\\ 4250.3 7.4\\
4251.3 7.6\\ 4252.3 7.5\\ 4253.3 8.2\\ 4254.4 8.0\\ 4255.4 7.5\\ 4256.4 7.2\\ 4257.4 5.55\\ 4258.5 7.4\\ 4259.5 8.0\\ 4260.0 8.9\\
4261.0 8.4\\ 4262.1 7.8\\ 4263.1 7.0\\ 4264.1 7.1\\ 4265.1 7.4\\ 4266.2 7.0\\ 4267.2 5.3\\ 4268.2 5.8\\ 4269.2 6.6\\ 4270.3 7.2\\
4271.3 7.7\\ 4272.3 8.2\\ 4273.3 8.9\\ 4274.4 8.9\\ 4275.4 8.6\\ 4276.4 8.4\\ 4277.4 7.9\\ 4278.5 8.1\\ 4279.5 7.8\\ 4280.5 8.3\\
4281.5 8.0\\ 4283.1 8.2\\ 4285.1 7.6\\ 4287.2 7.8\\ 4289.2 7.6\\ 4291.3 7.8\\ 4293.3 7.6\\ 4295.4 7.8\\ 4297.4 7.9\\ 4299.5 8.1\\
4301.5 7.6\\ 4303.6 8.0\\ 4305.6 7.1\\ 4307.7 7.7\\ 4308.7 7.0\\ 4309.7 7.3\\ 4310.8 7.7\\ 4311.8 6.6\\ 4312.8 7.6\\ 4313.8 8.0\\
4314.9 6.5\\ 4315.9 7.7\\ 4316.9 8.2\\ 4317.9 7.2\\ 4318.5 6.45\\ 4319.0 6.2\\ 4320.0 5.75\\
}\tcB

% legend box drawn after each axis; #1 = inset of its right edge from the axis' right edge
\newcommand{\windlegend}[1]{%
  \begin{scope}[shift={(rel axis cs:1,1)}, xshift=-#1]
    \draw[black, line width=0.5pt, fill=white] (-84pt,-8.25pt) rectangle (0pt,-104.25pt);
    \foreach \col/\name [count=\i from 0, evaluate=\i as \yy using -17.55-13.2*\i] in
      {matBlack/Measured, matGreen/BPNN, matRed/NARXNN, matMagenta/GABPNN,
       matCyan/RBFNN, matYellow/ANFIS, matBlue/ARIMA}{
      \draw[color=\col, line width=1.7pt] (-80.25pt,\yy pt) -- (-50.25pt,\yy pt);
      \node[anchor=west, inner sep=0pt, text height=6.7pt, text depth=0pt,
            font=\sffamily\fontsize{9.3}{10}\selectfont] at (-45.5pt,\yy pt) {\name};
    }
  \end{scope}}

\pgfplotsset{
  windax/.style={
    scale only axis, width=346.5pt, height=273pt,
    ymin=1, ymax=12, ytick={1,2,...,12},
    scaled x ticks=false,
    /pgf/number format/1000 sep={},
    /pgf/number format/assume math mode=true,
    tick align=inside, tick pos=both,
    major tick length=3.5pt,
    axis line style={black!80, line width=0.5pt},
    tick style={black!80, line width=0.5pt},
    tick label style={font=\sffamily\fontsize{9.5}{11}\selectfont, text=black!85},
    xticklabel style={yshift=-2pt},
    xlabel={Time}, ylabel={Wind speed (m/s)},
    label style={font=\fontsize{12}{14}\selectfont},
    xlabel style={at={(axis description cs:0.5,-0.094)}, anchor=center},
    ylabel style={at={(axis description cs:-0.074,0.5)}, anchor=center},
    every axis plot/.append style={line width=1.3pt, no markers},
  },
}

\begin{document}
\begin{tikzpicture}
\useasboundingbox (0pt,0pt) rectangle (855pt,-656.25pt);

% panel a
\begin{axis}[windax, at={(39pt,-9pt)}, anchor=north west,
  xmin=4177.5, xmax=4320, xtick={4180,4200,...,4320},
  extra description/.code={\node[font=\bfseries\fontsize{12}{14}\selectfont] at (0.058,0.904) {a)};},
  after end axis/.code={\windlegend{8.25pt}}]
\addplot[color=matBlack] table {\measured};
\addplot[color=matGreen] table {\taG};
\addplot[color=matRed] table {\taR};
\addplot[color=matMagenta] table {\taP};
\addplot[color=matCyan] table {\taC};
\addplot[color=matYellow] table {\taY};
\addplot[color=matBlue] table {\taB};
\end{axis}

% panel b
\begin{axis}[windax, at={(491.25pt,-9pt)}, anchor=north west,
  xmin=4177.5, xmax=4320, xtick={4180,4200,...,4320},
  extra description/.code={\node[font=\bfseries\fontsize{12}{14}\selectfont] at (0.065,0.901) {b)};},
  after end axis/.code={\windlegend{8.25pt}}]
\addplot[color=matBlack] table {\measured};
\addplot[color=matGreen] table {\tbG};
\addplot[color=matRed] table {\tbR};
\addplot[color=matMagenta] table {\tbP};
\addplot[color=matCyan] table {\tbC};
\addplot[color=matYellow] table {\tbY};
\addplot[color=matBlue] table {\tbB};
\end{axis}

% panel c (time axis in units of 10^4)
\begin{axis}[windax, at={(266.25pt,-346.5pt)}, anchor=north west,
  xmin=41775, xmax=43200, xtick={41800,42000,...,43200},
  xticklabels={4.18,4.2,4.22,4.24,4.26,4.28,4.3,4.32},
  xlabel style={at={(axis description cs:0.5,-0.099)}},
  extra description/.code={
    \node[font=\bfseries\fontsize{12}{14}\selectfont] at (0.054,0.926) {c)};
    \node[anchor=east, font=\sffamily\fontsize{9.5}{11}\selectfont, text=black!85] at (0.985,-0.104) {×10\textsuperscript{4}};},
  after end axis/.code={\windlegend{10.5pt}}]
\addplot[color=matBlack] table[x expr=\thisrow{x}*10, y=y] {\measured};
\addplot[color=matGreen] table[x expr=\thisrow{x}*10, y=y] {\tcG};
\addplot[color=matRed] table[x expr=\thisrow{x}*10, y=y] {\tcR};
\addplot[color=matMagenta] table[x expr=\thisrow{x}*10, y=y] {\tcP};
\addplot[color=matCyan] table[x expr=\thisrow{x}*10, y=y] {\tcC};
\addplot[color=matYellow] table[x expr=\thisrow{x}*10, y=y] {\tcY};
\addplot[color=matBlue] table[x expr=\thisrow{x}*10, y=y] {\tcB};
\end{axis}
\end{tikzpicture}
\end{document}
